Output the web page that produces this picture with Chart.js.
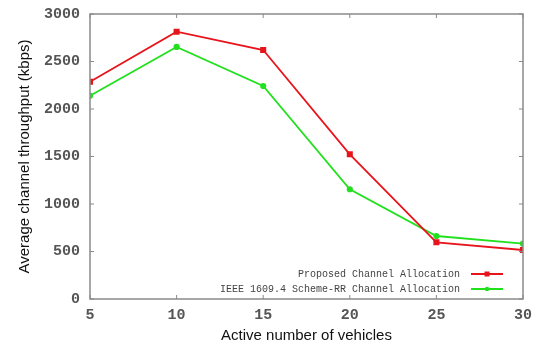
<!DOCTYPE html>
<html><head><meta charset="utf-8">
<script src="https://cdn.jsdelivr.net/npm/chart.js@4"></script>
<style>html,body{margin:0;padding:0;background:#fff}#wrap{width:542px;height:345px}</style>
</head><body><div id="wrap"><canvas id="c" width="542" height="345"></canvas></div>
<script>
const vehicles = [5, 10, 15, 20, 25, 30];
const proposed = [2287, 2814, 2621, 1523, 597, 516];
const ieeeRR = [2140, 2653, 2242, 1155, 663, 582];
const yTicks = [0, 500, 1000, 1500, 2000, 2500, 3000];
const seriesNames = ['Proposed Channel Allocation', 'IEEE 1609.4 Scheme-RR Channel Allocation'];
const xTitle = 'Active number of vehicles';
const yTitle = 'Average channel throughput (kbps)';

const frame = {
  id: 'frame',
  afterDatasetsDraw(chart) {
    const {ctx, chartArea: a, scales} = chart;
    ctx.save();
    ctx.strokeStyle = '#8a8a8a';
    ctx.lineWidth = 1.5;
    ctx.strokeRect(a.left, a.top, a.right - a.left, a.bottom - a.top);
    ctx.lineWidth = 1;
    ctx.beginPath();
    yTicks.forEach(v => {
      const y = scales.y.getPixelForValue(v);
      ctx.moveTo(a.left, y); ctx.lineTo(a.left + 4, y);
      ctx.moveTo(a.right, y); ctx.lineTo(a.right - 4, y);
    });
    vehicles.forEach(v => {
      const x = scales.x.getPixelForValue(v);
      ctx.moveTo(x, a.top); ctx.lineTo(x, a.top + 4);
      ctx.moveTo(x, a.bottom); ctx.lineTo(x, a.bottom - 4);
    });
    ctx.stroke();
    // legend
    ctx.font = '10px "Liberation Mono", monospace';
    ctx.textAlign = 'right';
    ctx.textBaseline = 'middle';
    const rows = [[seriesNames[0], '#e8141c', 'rect', 274], [seriesNames[1], '#22e01e', 'circle', 289]];
    rows.forEach(([t, col, shape, y]) => {
      ctx.fillStyle = '#444';
      ctx.fillText(t, 460, y);
      ctx.strokeStyle = col; ctx.lineWidth = 2;
      ctx.beginPath(); ctx.moveTo(471, y); ctx.lineTo(503, y); ctx.stroke();
      ctx.fillStyle = col;
      if (shape === 'rect') ctx.fillRect(484.5, y - 2.5, 5, 5);
      else { ctx.beginPath(); ctx.arc(487, y, 2.2, 0, Math.PI * 2); ctx.fill(); }
    });
    ctx.restore();
  }
};

const tickFont = { family: '"Liberation Mono", monospace', size: 15, weight: 'bold' };

new Chart(document.getElementById('c'), {
  type: 'line',
  data: {
    datasets: [
      { label: seriesNames[0], data: vehicles.map((x, i) => ({x, y: proposed[i]})),
        borderColor: '#e8141c', backgroundColor: '#e8141c', borderWidth: 1.8,
        pointStyle: 'rect', pointRadius: 3, tension: 0 },
      { label: seriesNames[1], data: vehicles.map((x, i) => ({x, y: ieeeRR[i]})),
        borderColor: '#22e01e', backgroundColor: '#22e01e', borderWidth: 1.8,
        pointStyle: 'circle', pointRadius: 2.2, tension: 0 }
    ]
  },
  options: {
    responsive: false, animation: false,
    layout: { padding: { left: 0, right: 19, top: 14, bottom: 0 } },
    plugins: { legend: { display: false }, tooltip: { enabled: false } },
    scales: {
      x: { type: 'linear', min: 5, max: 30,
        afterBuildTicks: s => { s.ticks = vehicles.map(v => ({value: v})); },
        afterFit: s => { s.height = 46; s.paddingLeft = 0; s.paddingRight = 0; },
        grid: { display: false, drawTicks: false }, border: { display: false },
        ticks: { padding: 7, color: '#555', font: tickFont, callback: v => String(v) },
        title: { display: true, text: xTitle, color: '#111', padding: { top: 2, bottom: 0 },
          font: { family: '"Liberation Sans", Arial, sans-serif', size: 15 } } },
      y: { min: 0, max: 3000,
        afterBuildTicks: s => { s.ticks = yTicks.map(v => ({value: v})); },
        afterFit: s => { s.width = 90; s.paddingTop = 0; s.paddingBottom = 0; },
        grid: { display: false, drawTicks: false }, border: { display: false },
        ticks: { padding: 10, color: '#555', font: tickFont, callback: v => String(v) },
        title: { display: true, text: yTitle, color: '#111', padding: { top: 16, bottom: 0 },
          font: { family: '"Liberation Sans", Arial, sans-serif', size: 15 } } }
    }
  },
  plugins: [frame]
});
</script></body></html>
